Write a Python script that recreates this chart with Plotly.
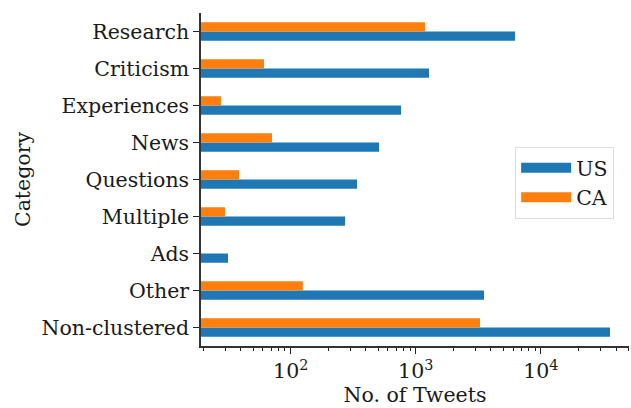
import plotly.graph_objects as go

categories = ["Research", "Criticism", "Experiences", "News", "Questions",
              "Multiple", "Ads", "Other", "Non-clustered"]
us_counts = [6225, 1277, 763, 509, 339, 272, 31.5, 3519, 35830]
ca_counts = [1187, 61.2, 27.7, 70.9, 38.6, 29.8, None, 125, 3268]
major_ticks = [100, 1000, 10000]
major_labels = ["10<sup>2</sup>", "10<sup>3</sup>", "10<sup>4</sup>"]
minor_ticks = [m * 10 ** e for e in range(1, 5) for m in range(2, 10)]
minor_ticks = sorted(set(t for t in minor_ticks if 19 < t < 51000))

order = categories[::-1]

FONT = "DejaVu Serif"
FS = 20.5
US_C = "#1f77b4"
CA_C = "#ff7f0e"

fig = go.Figure()
fig.add_trace(go.Bar(y=categories, x=us_counts, orientation="h", name="US",
                     marker=dict(color=US_C, line=dict(width=0)), showlegend=False))
fig.add_trace(go.Bar(y=categories, x=ca_counts, orientation="h", name="CA",
                     marker=dict(color=CA_C, line=dict(width=0)), showlegend=False))
# legend-only entries drawn as wide patches
fig.add_trace(go.Scatter(x=[None], y=[None], mode="lines", name="US",
                         line=dict(color=US_C, width=15)))
fig.add_trace(go.Scatter(x=[None], y=[None], mode="lines", name="CA",
                         line=dict(color=CA_C, width=15)))

fig.update_layout(
    width=631, height=408,
    margin=dict(l=201, r=2, t=13, b=62),
    paper_bgcolor="white", plot_bgcolor="white",
    barmode="group", bargap=0.5, bargroupgap=0,
    font=dict(family=FONT, size=FS, color="#1a1a1a"),
    showlegend=True,
    legend=dict(x=0.734, y=0.598, xanchor="left", yanchor="top",
                bgcolor="white", bordercolor="#dddddd", borderwidth=1,
                font=dict(family=FONT, size=FS), tracegroupgap=4,
                itemwidth=50),
)
fig.update_xaxes(
    type="log", range=[1.2824, 4.706],
    tickvals=major_ticks, ticktext=major_labels,
    ticks="outside", ticklen=6, tickwidth=1.2, tickcolor="#222",
    minor=dict(tickvals=minor_ticks, ticks="outside", ticklen=3.5, tickwidth=1, tickcolor="#222"),
    showline=True, linecolor="#333", linewidth=1.5,
    showgrid=False, zeroline=False,
    title=dict(text="No. of Tweets", font=dict(family=FONT, size=FS), standoff=4),
    tickfont=dict(family=FONT, size=FS),
)
fig.update_yaxes(
    type="category", categoryorder="array", categoryarray=order,
    range=[-0.5, 8.5],
    ticks="outside", ticklen=6, tickwidth=1.2, tickcolor="#222",
    showline=True, linecolor="#333", linewidth=1.5,
    showgrid=False, zeroline=False,
    title=dict(text="Category", font=dict(family=FONT, size=FS), standoff=5),
    tickfont=dict(family=FONT, size=FS),
)

fig.write_html("out.html")
